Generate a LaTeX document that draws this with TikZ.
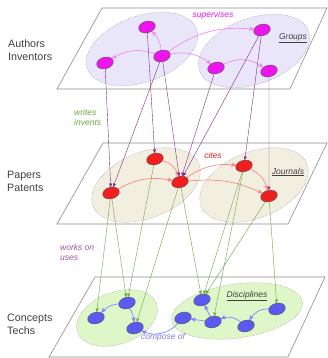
\documentclass[tikz,border=0pt]{standalone}
\usepackage{fontspec}
\setmainfont{Liberation Sans}
\usetikzlibrary{arrows,shapes,positioning}
\pgfdeclarelayer{bg}
\pgfsetlayers{bg,main}
\definecolor{authorc}{RGB}{238,20,238}
\definecolor{paperc}{RGB}{240,30,30}
\definecolor{conceptc}{RGB}{90,90,240}
\definecolor{grpa}{RGB}{232,230,248}
\definecolor{grpp}{RGB}{243,239,224}
\definecolor{grpc}{RGB}{222,246,200}
\definecolor{writec}{RGB}{135,40,135}
\definecolor{usec}{RGB}{110,165,60}
\definecolor{supc}{RGB}{242,140,242}
\definecolor{citec}{RGB}{255,135,135}
\definecolor{compc}{RGB}{135,135,255}

\begin{document}
\begin{tikzpicture}[x=1pt,y=1pt,>=stealth',
    plane/.style={draw=black!45,line width=0.6pt},
    group/.style={ellipse,draw=black!40,densely dotted,line width=0.5pt,inner sep=0pt},
    item/.style={ellipse,draw=black!65,line width=0.4pt,minimum width=17pt,minimum height=11.5pt,inner sep=0pt,rotate=15},
    author/.style={item,fill=authorc},
    paper/.style={item,fill=paperc},
    concept/.style={item,fill=conceptc},
    layer/.style={font=\fontsize{10.7}{13}\selectfont,text=black!75,align=left,anchor=west,inner sep=0pt},
    rel/.style={font=\fontsize{8.5}{10}\selectfont\itshape,align=left,inner sep=0pt},
    setname/.style={rel,text=black!75},
    writes/.style={->,draw=writec,line width=0.4pt},
    uses/.style={->,draw=usec,line width=0.4pt},
    sup/.style={->,draw=supc,line width=0.7pt},
    cite/.style={->,draw=citec,line width=0.7pt},
    comp/.style={->,draw=compc,line width=0.7pt}]
  \useasboundingbox (0,0) rectangle (328,-358);

  \node[author] (a1) at (147,-27) {};
  \node[author] (a2) at (105,-63) {};
  \node[author] (a3) at (162,-56) {};
  \node[author] (a4) at (262,-30) {};
  \node[author] (a5) at (216,-68) {};
  \node[author] (a6) at (269,-71) {};

  \node[paper] (p1) at (155,-159) {};
  \node[paper] (p2) at (111,-193) {};
  \node[paper] (p3) at (180,-182) {};
  \node[paper] (p4) at (244,-166) {};
  \node[paper] (p5) at (269,-196) {};

  \node[concept] (c1) at (96,-318) {};
  \node[concept] (c2) at (127,-303) {};
  \node[concept] (c3) at (135,-328) {};
  \node[concept] (c4) at (183,-318) {};
  \node[concept] (c5) at (202,-300) {};
  \node[concept] (c6) at (213,-322) {};
  \node[concept] (c7) at (246,-326) {};
  \node[concept] (c8) at (277,-309) {};

  \node[layer] (authorsLbl) at (8,-50) {Authors\\Inventors};
  \node[layer] (papersLbl) at (7,-181) {Papers\\Patents};
  \node[layer] (conceptsLbl) at (7,-324) {Concepts\\Techs};

  \node[rel,text=usec,anchor=west] (writesLbl) at (74,-117) {writes\\invents};
  \node[rel,text=writec!80,anchor=west] (worksLbl) at (60,-252) {works on\\uses};
  \node[rel,text=authorc] (supLbl) at (213,-15) {supervises};
  \node[rel,text=paperc] (citeLbl) at (213,-155) {cites};
  \node[rel,text=conceptc!80] (compLbl) at (163,-337) {compose of};
  \node[setname] (groupsLbl) at (293,-38) {\underline{Groups}};
  \node[setname] (journalsLbl) at (288,-172) {\underline{Journals}};
  \node[setname] (disciplinesLbl) at (247,-296) {\underline{Disciplines}};

  \begin{pgfonlayer}{bg}
    \draw[plane] (102,-8) -- (327,-8) -- (290,-89) -- (57,-89) -- cycle;
    \draw[plane] (103,-143) -- (327,-143) -- (288,-224) -- (57,-224) -- cycle;
    \draw[plane] (95,-277) -- (325,-277) -- (288,-357) -- (49,-357) -- cycle;

    \node[group,fill=grpa,minimum width=116pt,minimum height=66pt,rotate=20] (authorsL) at (142,-49) {};
    \node[group,fill=grpa,minimum width=116pt,minimum height=66pt,rotate=20] (groups) at (254,-51) {};
    \node[group,fill=grpp,minimum width=114pt,minimum height=66pt,rotate=22] (papersL) at (146,-185) {};
    \node[group,fill=grpp,minimum width=114pt,minimum height=66pt,rotate=22] (journals) at (254,-185) {};
    \node[group,fill=grpc,minimum width=84pt,minimum height=52pt,rotate=20] (conceptsL) at (117,-318) {};
    \node[group,fill=grpc,minimum width=132pt,minimum height=54pt,rotate=8] (disciplines) at (237,-311) {};

    \draw[sup] (a3) to[bend right=20] (a1);
    \draw[sup] (a3) to[bend right=25] (a2);
    \draw[sup] (a3) to[bend left=20] (a4);
    \draw[sup] (a3) to[bend left=25] (a5);
    \draw[sup] (a5) to[bend left=30] (a6);

    \draw[cite] (p1) to[bend left=30] (p3);
    \draw[cite] (p2) to[bend left=20] (p3);
    \draw[cite] (p3) to[bend left=20] (p4);
    \draw[cite] (p3) to[bend left=15] (p5);
    \draw[cite] (p4) to[bend left=25] (p5);

    \draw[comp] (c2) to[bend right=20] (c1);
    \draw[comp] (c2) to[bend left=10] (c3);
    \draw[comp] (c4) to[bend left=35] (c3);
    \draw[comp] (c6) -- (c5);
    \draw[comp] (c6) -- (c4);
    \draw[comp] (c7) to[bend right=30] (c6);
    \draw[comp] (c8) to[bend right=30] (c7);

    \draw[writes] (a1) -- (p1);
    \draw[writes] (a2) -- (p2);
    \draw[writes] (a3) -- (p2);
    \draw[writes] (a3) -- (p3);
    \draw[writes] (a5) -- (p3);
    \draw[writes] (a4) -- (p3);
    \draw[writes] (a4) -- (p4);
    \draw[writes] (a6) -- (p5);

    \draw[uses] (p2) -- (c1);
    \draw[uses] (p2) -- (c2);
    \draw[uses] (p1) -- (c2);
    \draw[uses] (p3) -- (c3);
    \draw[uses] (p3) -- (c5);
    \draw[uses] (p4) -- (c5);
    \draw[uses] (p4) -- (c6);
    \draw[uses] (p5) -- (c5);
    \draw[uses] (p5) -- (c8);
  \end{pgfonlayer}
\end{tikzpicture}
\end{document}
